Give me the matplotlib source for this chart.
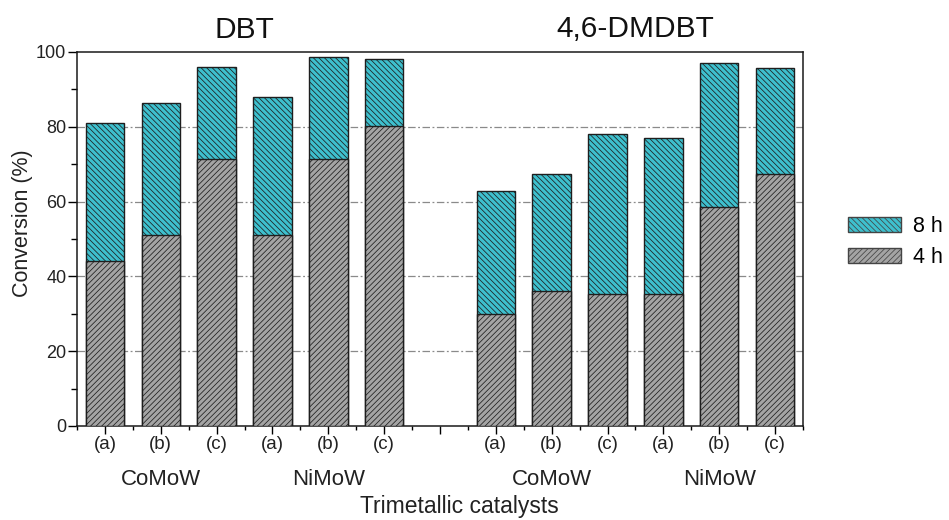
import numpy as np
import matplotlib
matplotlib.use("Agg")
import matplotlib.pyplot as plt
from matplotlib.patches import Patch

plt.rcParams['font.family'] = ['Liberation Sans', 'DejaVu Sans']
plt.rcParams['hatch.linewidth'] = 0.55

# ---- data ----
tests = ["DBT", "4,6-DMDBT"]
catalysts = ["(a)", "(b)", "(c)", "(a)", "(b)", "(c)"]
families = ["CoMoW", "NiMoW"]
dbt_4h = [44, 51, 71.3, 51, 71.3, 80.2]
dbt_8h = [81, 86.3, 96, 88, 98.7, 98]
dmdbt_4h = [30, 36, 35.3, 35.3, 58.5, 67.4]
dmdbt_8h = [62.8, 67.4, 78.2, 77.1, 97.1, 95.8]
series_labels = ["8 h", "4 h"]

teal = "#3ec0ce"
gray = "#a4a4a4"
hatch8 = "\\" * 6
hatch4 = "/" * 6

fig = plt.figure(figsize=(9.49, 5.2), dpi=100)
ax = fig.add_axes([77/949, 1-426/520, (803-77)/949, (426-52)/520])

x1 = np.arange(6)
x2 = np.arange(6) + 7
xs = np.concatenate([x1, x2])
v8 = dbt_8h + dmdbt_8h
v4 = dbt_4h + dmdbt_4h
w = 0.69

ax.bar(xs, v8, width=w, color=teal, edgecolor="#1e1e1e", hatch=hatch8, linewidth=1.0, zorder=2)
ax.bar(xs, v4, width=w, color=gray, edgecolor="#1e1e1e", hatch=hatch4, linewidth=1.0, zorder=3)

ax.set_xlim(-0.5, 12.5)
ax.set_ylim(0, 100)
ax.set_yticks([0, 20, 40, 60, 80, 100])
ax.set_yticks([10, 30, 50, 70, 90], minor=True)
ax.set_xticks(np.arange(0, 13))
ax.set_xticks(np.arange(-0.5, 13, 1.0), minor=True)
labels = catalysts + [""] + catalysts
ax.set_xticklabels(labels, fontsize=13.5, color="#222222")
for t in ax.get_yticklabels():
    t.set_color("#222222")
ax.tick_params(axis='y', which='major', length=6.7, width=1.0, pad=1, labelsize=13, direction='out')
ax.tick_params(axis='y', which='minor', length=4.0, width=1.0, direction='out')
ax.tick_params(axis='x', which='major', length=5.5, width=1.0, pad=2, direction='out')
ax.tick_params(axis='x', which='minor', length=3.2, width=1.0, direction='out')

for y in [20, 40, 60, 80]:
    ax.axhline(y, color="#8a8a8a", linewidth=0.9, linestyle=(0, (6, 2, 1.5, 2)), zorder=1)

for s in ax.spines.values():
    s.set_linewidth(1.1)
    s.set_color("#1a1a1a")

# group labels
trans = ax.get_xaxis_transform()
for base in (0, 7):
    ax.text(base + 1, -0.142, families[0], transform=trans, ha='center', va='center', fontsize=16, color="#222222")
    ax.text(base + 4, -0.142, families[1], transform=trans, ha='center', va='center', fontsize=16, color="#222222")

ax.text(2.5, 1.058, tests[0], transform=trans, ha='center', va='center', fontsize=21.5, color="#111111")
ax.text(9.5, 1.062, tests[1], transform=trans, ha='center', va='center', fontsize=21.5, color="#111111")

fig.text(459/949, 1-507/520, "Trimetallic catalysts", ha='center', va='center', fontsize=16.5, color="#222222")
fig.text(23/949, 1-223/520, "Conversion (%)", ha='center', va='center', rotation=90, fontsize=15.5, color="#222222")

handles = [Patch(facecolor=teal, edgecolor="#444444", hatch=hatch8, label=series_labels[0]),
           Patch(facecolor=gray, edgecolor="#444444", hatch=hatch4, label=series_labels[1])]
fig.legend(handles=handles, loc='center left', bbox_to_anchor=(848/949, 1-242/520),
           frameon=False, fontsize=15.5, handlelength=2.45, handleheight=0.7,
           handletextpad=0.55, labelspacing=0.45, borderpad=0, borderaxespad=0)

fig.savefig("out.png", dpi=100)
